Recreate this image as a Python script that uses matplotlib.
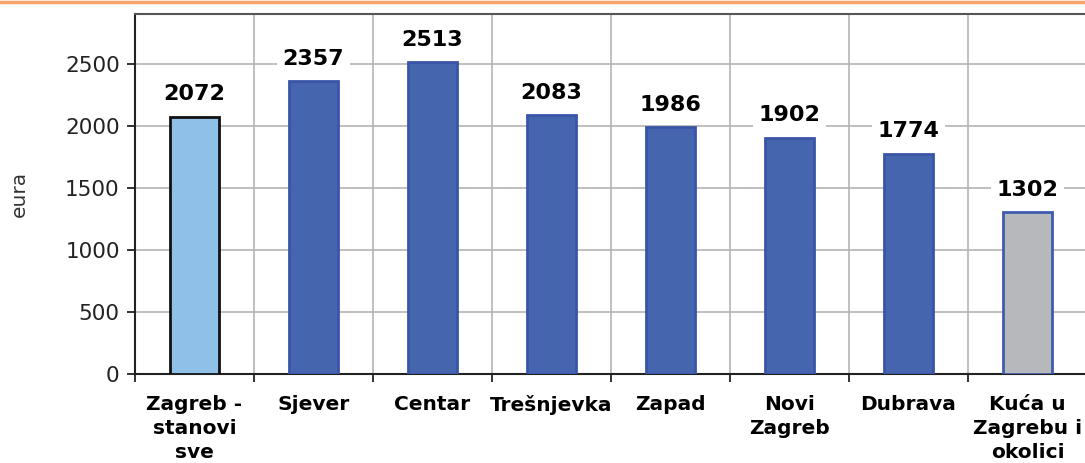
import numpy as np
import matplotlib
matplotlib.use('Agg')
import matplotlib.pyplot as plt
from matplotlib.lines import Line2D

# podaci
kategorije = ['Zagreb -\nstanovi\nsve', 'Sjever', 'Centar', 'Trešnjevka', 'Zapad',
              'Novi\nZagreb', 'Dubrava', 'Kuća u\nZagrebu i\nokolici']
cijene = [2072, 2357, 2513, 2083, 1986, 1902, 1774, 1302]
boje = ['#8fc0e8', '#4565ae', '#4565ae', '#4565ae', '#4565ae', '#4565ae', '#4565ae', '#b7b8bc']
rubovi = ['#111111', '#3a55a8', '#3a55a8', '#3a55a8', '#3a55a8', '#3a55a8', '#3a55a8', '#3f5bae']

plt.rcParams['font.family'] = ['DejaVu Sans']

fig = plt.figure(figsize=(10.85, 4.63), dpi=100)
ax = fig.add_axes([135/1085, 89/463, 952/1085, 360/463])

x = np.arange(len(cijene))
ax.bar(x, cijene, width=0.41, color=boje, edgecolor=rubovi, linewidth=2, zorder=3)

for xi, v in zip(x, cijene):
    ax.annotate(str(v), (xi, v), xytext=(0, 9), textcoords='offset points',
                ha='center', va='bottom', fontsize=16, fontweight='bold', color='black',
                bbox=dict(facecolor='white', edgecolor='none', pad=4), zorder=4)

ax.set_xlim(-0.5, 7.5)
ax.set_ylim(0, 2900)
ax.set_yticks(np.arange(0, 2501, 500))
ax.set_xticks(np.arange(-0.5, 8, 1))
ax.set_xticklabels([])
ax.set_xticks(x, minor=True)
ax.set_xticklabels(kategorije, minor=True, fontsize=14.5, fontweight='bold', linespacing=1.35)
ax.tick_params(axis='x', which='minor', length=0, pad=15)
ax.tick_params(axis='x', which='major', length=6, width=1.3, color='#222222')
ax.tick_params(axis='y', length=6, width=1.3, color='#222222', labelsize=15.5, labelcolor='#222222', pad=5)

ax.grid(True, which='major', color='#b4b4b4', linewidth=1.2, zorder=0)
ax.set_axisbelow(True)
for s in ['left', 'bottom']:
    ax.spines[s].set_color('#222222')
    ax.spines[s].set_linewidth(1.5)
ax.spines['top'].set_color('#555555')
ax.spines['top'].set_linewidth(1.5)
ax.spines['right'].set_visible(False)

ax.set_ylabel('eura', fontsize=14.5, color='#333333', labelpad=26)

fig.add_artist(Line2D([0, 1], [1 - 2/463, 1 - 2/463], color='#f7a46a', linewidth=2.5))

fig.savefig('out.png', dpi=100)
